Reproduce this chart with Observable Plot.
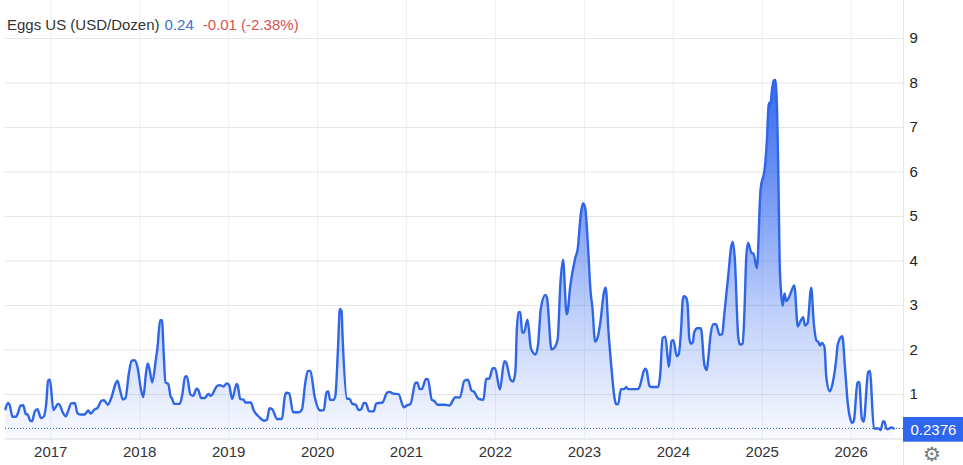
<!DOCTYPE html>
<html><head><meta charset="utf-8">
<script src="https://cdn.jsdelivr.net/npm/d3@7"></script>
<script src="https://cdn.jsdelivr.net/npm/@observablehq/plot@0.6"></script>
<style>
html,body{margin:0;padding:0;background:#fff;overflow:hidden}
#wrap{position:relative;width:963px;height:465px;font-family:"Liberation Sans",Arial,sans-serif}
#wrap svg{position:absolute;left:0;top:0;background:transparent}
#title{position:absolute;left:7px;top:16px;font-size:15px;line-height:18px;color:#333;white-space:pre}
#title .v{color:#3b6fd8;margin-left:5px}
#title .c{color:#d9534f;margin-left:9px}
#gear{position:absolute;left:923px;top:443px;font:20px/22px "DejaVu Sans";color:#777}
</style></head><body>
<div id="wrap"><div id="chart"></div>
<div id="title">Eggs US (USD/Dozen)<span class="v">0.24</span><span class="c">-0.01 (-2.38%)</span></div>
<div id="gear">⚙</div></div>
<script>
const p2016=[[.49,.67],[.52,.81],[.54,.75],[.57,.50],[.61,.50],[.63,.58],[.66,.75],[.69,.76],[.72,.56],[.74,.55],[.77,.41],[.79,.40],[.82,.62],[.85,.67],[.89,.47],[.92,.50],[.95,.82],[.97,1.31],[.99,1.33]];
const p2017=[[.03,.65],[.05,.70],[.08,.79],[.10,.77],[.13,.62],[.17,.51],[.19,.60],[.23,.80],[.27,.81],[.30,.58],[.33,.55],[.38,.55],[.42,.64],[.45,.57],[.49,.66],[.53,.71],[.57,.86],[.60,.87],[.64,.77],[.68,.92],[.73,1.25],[.75,1.31],[.78,1.09],[.81,.89],[.84,.92],[.88,1.50],[.91,1.76],[.94,1.77],[.98,1.57]];
const p2018=[[.01,1.16],[.04,.94],[.07,1.46],[.09,1.70],[.11,1.57],[.14,1.27],[.18,1.76],[.20,2.06],[.23,2.67],[.25,2.67],[.27,1.91],[.29,1.27],[.32,1.24],[.35,.94],[.36,.92],[.39,.79],[.45,.79],[.48,1.01],[.51,1.40],[.53,1.41],[.57,1.00],[.60,.97],[.64,1.13],[.66,1.10],[.69,.92],[.73,.92],[.77,1.01],[.80,.97],[.87,1.19],[.90,1.21],[.94,1.18],[.98,1.25]];
const p2019=[[.005,1.21],[.04,.90],[.09,1.24],[.10,1.22],[.13,.90],[.17,.88],[.19,.82],[.25,.82],[.28,.65],[.34,.50],[.40,.41],[.43,.43],[.46,.69],[.49,.67],[.545,.45],[.60,.45],[.63,.94],[.65,1.04],[.68,1.03],[.725,.60],[.79,.60],[.825,.67],[.86,1.24],[.89,1.53],[.92,1.53],[.965,.97]];
const p2020=[[.03,.64],[.07,.65],[.10,1.05],[.12,1.07],[.14,.88],[.18,.88],[.20,.97],[.23,2.06],[.25,2.92],[.27,2.87],[.28,2.36],[.33,.91],[.36,.90],[.39,.79],[.43,.77],[.46,.65],[.49,.67],[.52,.81],[.54,.81],[.58,.62],[.63,.62],[.66,.80],[.73,.82],[.78,1.04],[.81,1.06],[.85,1.02],[.91,1.01],[.97,.71]];
const p2021=[[.00,.75],[.045,.79],[.10,1.26],[.12,1.27],[.15,1.12],[.17,1.12],[.22,1.35],[.24,1.34],[.285,.88],[.31,.86],[.35,.77],[.43,.77],[.48,.75],[.55,.94],[.60,.93],[.65,1.31],[.69,1.33],[.73,1.09],[.76,1.06],[.81,.90],[.865,.88],[.895,1.35],[.93,1.36],[.97,1.59],[.995,1.59]];
const p2022=[[.05,1.11],[.10,1.75],[.12,1.72],[.17,1.33],[.20,1.29],[.225,1.54],[.24,2.44],[.26,2.85],[.28,2.85],[.30,2.39],[.32,2.39],[.36,2.68],[.40,2.03],[.45,1.90],[.48,2.14],[.51,2.93],[.56,3.24],[.58,3.17],[.63,2.01],[.67,2.07],[.70,2.25],[.73,3.49],[.76,4.03],[.80,2.80],[.81,2.85],[.84,3.41],[.895,4.05],[.925,4.28],[.96,5.06],[.985,5.30]];
const p2023=[[.01,5.18],[.04,4.35],[.07,3.30],[.09,2.96],[.12,2.19],[.15,2.29],[.18,2.63],[.22,3.30],[.24,3.40],[.27,2.44],[.30,1.69],[.31,1.47],[.34,.90],[.36,.78],[.38,.78],[.41,1.12],[.45,1.12],[.47,1.17],[.49,1.12],[.60,1.12],[.62,1.17],[.67,1.54],[.685,1.58],[.70,1.54],[.73,1.20],[.75,1.17],[.83,1.17],[.85,1.39],[.88,2.27],[.91,2.30],[.95,1.62],[.98,2.20]];
const p2024=[[.00,2.22],[.04,1.86],[.06,1.90],[.09,2.55],[.105,3.12],[.12,3.21],[.14,3.19],[.16,3.04],[.18,2.25],[.20,2.14],[.22,2.18],[.235,2.40],[.27,2.49],[.31,2.49],[.35,1.65],[.375,1.55],[.39,1.76],[.42,2.36],[.45,2.58],[.48,2.58],[.52,2.34],[.55,2.36],[.57,2.74],[.62,3.72],[.65,4.32],[.67,4.43],[.69,4.09],[.73,2.29],[.75,2.12],[.78,2.14],[.80,2.89],[.82,4.09],[.84,4.41],[.88,4.18],[.90,4.17],[.94,3.84],[.98,5.59]];
const p2025=[[.03,6.12],[.05,6.64],[.075,7.55],[.09,7.51],[.11,7.85],[.13,8.06],[.15,8.07],[.18,6.04],[.195,4.02],[.21,3.34],[.23,3.00],[.25,3.27],[.27,3.10],[.30,3.18],[.33,3.34],[.36,3.45],[.40,2.53],[.43,2.65],[.46,2.74],[.48,2.55],[.51,2.61],[.55,3.40],[.58,2.59],[.61,2.21],[.63,2.18],[.65,2.10],[.67,2.16],[.70,2.06],[.72,1.39],[.76,1.07],[.79,1.24],[.83,1.76],[.85,2.14],[.90,2.31],[.93,1.61],[.96,.83],[.99,.45]];
const p2026=[[.01,.36],[.03,.41],[.07,1.26],[.09,1.28],[.12,.45],[.14,.39],[.19,1.50],[.21,1.53],[.255,.24],[.32,.23],[.33,.20],[.36,.40],[.375,.38],[.40,.22],[.42,.23],[.45,.26],[.48,.2376]];
const spans=[[2016,p2016],[2017,p2017],[2018,p2018],[2019,p2019],[2020,p2020],[2021,p2021],[2022,p2022],[2023,p2023],[2024,p2024],[2025,p2025],[2026,p2026]];
const series=spans.flatMap(([yr,pts])=>pts.map(([f,v])=>({year:yr+f,price:v})));
const yearTicks=[2017,2018,2019,2020,2021,2022,2023,2024,2025,2026];
const priceTicks=[1,2,3,4,5,6,7,8,9];
const lastPrice=0.2376;
const xMin=2016.491,xMax=2026.588,xOut=2027.263;

const defs=()=>{
  const s=d3.create("svg:defs");
  const g=s.append("linearGradient").attr("id","eggFill").attr("x1",0).attr("x2",0).attr("y1",0).attr("y2",1);
  [[0,.95],[.35,.62],[.65,.3],[1,.03]].forEach(([o,a])=>g.append("stop").attr("offset",o).attr("stop-color","#2c62f0").attr("stop-opacity",a));
  return s.node();
};
const chart=Plot.plot({
  width:963,height:465,marginLeft:5,marginRight:60,marginTop:0,marginBottom:26.5,
  style:{fontFamily:'"Liberation Sans",Arial,sans-serif',fontSize:"15px",color:"#333",background:"transparent"},
  x:{domain:[xMin,xMax],label:null},
  y:{domain:[0,9.855],label:null},
  marks:[
    defs,
    Plot.ruleX(yearTicks,{stroke:"#eef0f4",strokeOpacity:1,strokeWidth:1}),
    Plot.ruleY(priceTicks,{stroke:"#e6e6e6",strokeWidth:1}),
    Plot.ruleY([0],{stroke:"#e6e6e6",strokeWidth:1.5}),
    Plot.ruleX([xMax],{stroke:"#e6e6e6",strokeWidth:1,y1:-1.2,y2:9.855}),
    Plot.areaY(series,{x:"year",y:"price",fill:"url(#eggFill)",curve:"monotone-x"}),
    Plot.ruleY([lastPrice],{stroke:"#2a5a8c",strokeWidth:1,strokeDasharray:"1,2"}),
    Plot.lineY(series,{x:"year",y:"price",stroke:"#2f66e8",strokeWidth:2.4,curve:"monotone-x"}),
    Plot.axisX({ticks:yearTicks,tickFormat:"d",tickSize:0,tickPadding:7,fontSize:15,color:"#333",label:null}),
    Plot.axisY({anchor:"right",ticks:priceTicks,tickSize:0,tickPadding:6,fontSize:15,fill:"#222",label:null}),
    Plot.rect([lastPrice],{x1:xMax,x2:xOut,y1:-0.072,y2:0.483,fill:"#2f66f0"}),
    Plot.text([lastPrice],{x:xMax,y:lastPrice,dx:7,dy:1.5,text:d=>d.toFixed(4),textAnchor:"start",fill:"#fff",fontSize:15})
  ]
});
document.getElementById("chart").append(chart);
</script>
</body></html>
